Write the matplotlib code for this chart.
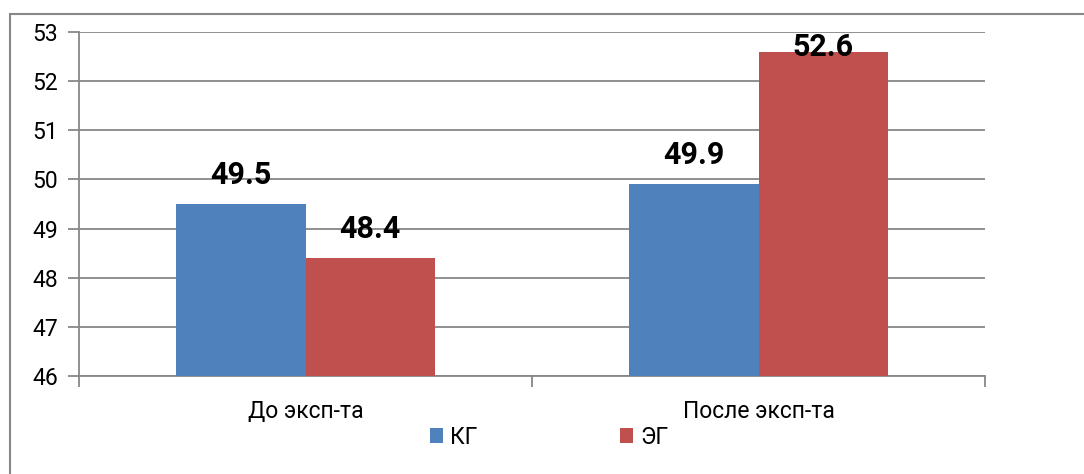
import numpy as np
import matplotlib.pyplot as plt
from matplotlib.patches import Rectangle

plt.rcParams['font.family'] = ['Roboto', 'DejaVu Sans']

# data
categories = ["До эксп-та", "После эксп-та"]
series_names = ["КГ", "ЭГ"]
kg_values = [49.5, 49.9]
eg_values = [48.4, 52.6]

blue = "#4F81BD"
red = "#C0504D"
grid_col = "#878787"

fig = plt.figure(figsize=(10.84, 4.74), dpi=100)
ax = fig.add_axes([79/1084, 1 - 376/474, (985-79)/1084, (376-32)/474])

# outer chart border
fig.patches.append(Rectangle((10/1084, -0.1), 1.2, 1 - 14/474 + 0.1,
                             transform=fig.transFigure, fill=False,
                             edgecolor=grid_col, linewidth=1.5))

x = np.arange(len(categories))
width = 0.285
b1 = ax.bar(x - width/2, kg_values, width, color=blue, label=series_names[0], zorder=3)
b2 = ax.bar(x + width/2, eg_values, width, color=red, label=series_names[1], zorder=3)

ax.set_ylim(46, 53)
ax.set_xlim(-0.5, 1.5)
ax.set_yticks(np.arange(46, 54, 1))
ax.yaxis.grid(True, color=grid_col, linewidth=1.3, zorder=0)
ax.set_axisbelow(True)

# tick marks at category boundaries, labels at centres
ax.set_xticks([-0.5, 0.5, 1.5])
ax.set_xticklabels([])
ax.set_xticks(x, minor=True)
ax.set_xticklabels(categories, minor=True, fontsize=16.5)
ax.tick_params(axis='x', which='minor', length=0, pad=17)
ax.tick_params(axis='x', which='major', length=8, width=1.3, color=grid_col)
ax.tick_params(axis='y', length=8, width=1.3, color=grid_col, labelsize=16.5, pad=7)

for s in ["top", "right"]:
    ax.spines[s].set_visible(False)
for s in ["left", "bottom"]:
    ax.spines[s].set_color(grid_col)
    ax.spines[s].set_linewidth(1.3)

# value labels
for bars in (b1, b2):
    for rect in bars:
        v = rect.get_height()
        cx = rect.get_x() + rect.get_width()/2
        if v > 52.0:
            ax.annotate(f"{v}", (cx, 53), xytext=(0, 0), textcoords="offset points",
                        ha="center", va="top", fontsize=22, fontweight="bold", zorder=5)
        else:
            ax.annotate(f"{v}", (cx, v), xytext=(0, 10), textcoords="offset points",
                        ha="center", va="bottom", fontsize=22, fontweight="bold", zorder=5)

fig.legend(loc="center", bbox_to_anchor=(549/1084, 1 - 437/474), ncol=2,
           frameon=False, fontsize=16.5, handlelength=0.6, handleheight=0.6,
           handletextpad=0.3, columnspacing=6.2)

fig.savefig("out.png", dpi=100)
